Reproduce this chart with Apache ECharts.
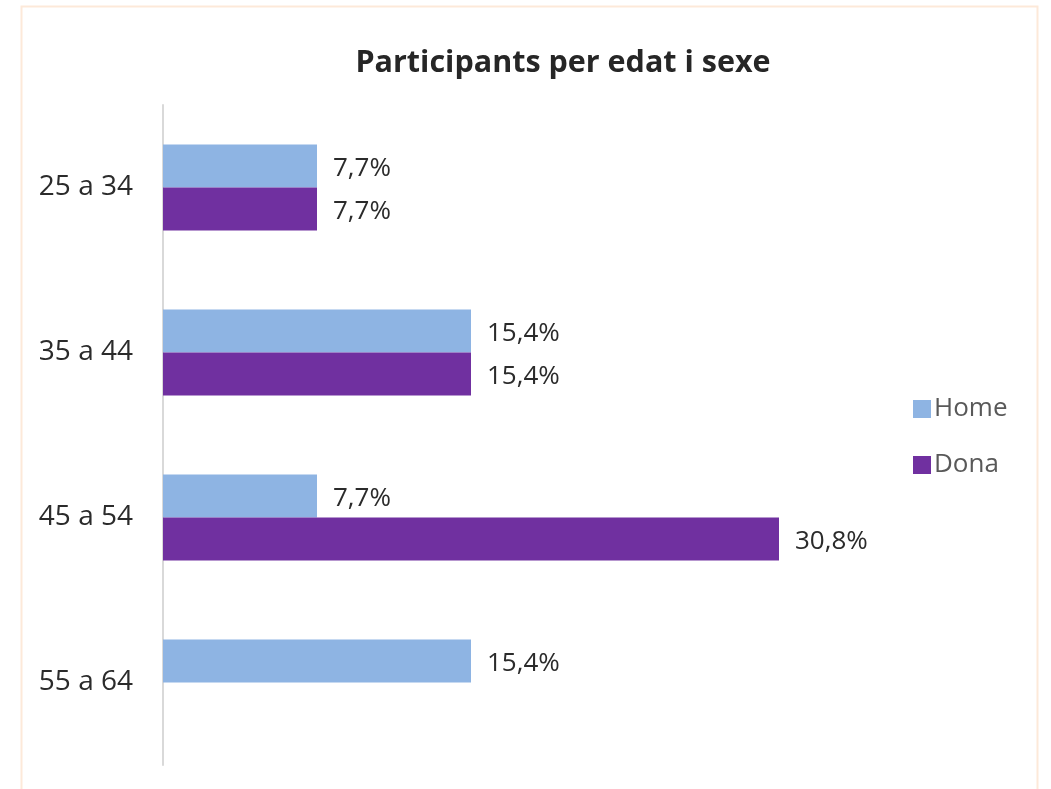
<!DOCTYPE html>
<html><head><meta charset="utf-8">
<script src="https://cdn.jsdelivr.net/npm/echarts@6/dist/echarts.min.js"></script>
<style>html,body{margin:0;padding:0;background:#fff}#c{width:1051px;height:789px}</style>
</head><body><div id="c"></div>
<script>
const categories = ['25 a 34', '35 a 44', '45 a 54', '55 a 64'];
const homeValues = [7.7, 15.4, 7.7, 15.4];
const donaValues = [7.7, 15.4, 30.8, null];
const seriesNames = ['Home', 'Dona'];
const titleText = 'Participants per edat i sexe';

const FONT = '"Open Sans", "Noto Sans", sans-serif';
const chart = echarts.init(document.getElementById('c'), null, {renderer: 'canvas'});
const fmt = p => p.value == null ? '' : p.value.toFixed(1).replace('.', ',') + '%';
const labelStyle = {show: true, position: 'right', distance: 16, offset: [0, 3], formatter: fmt,
  fontFamily: FONT, fontSize: 26, color: '#2b2b2b'};
chart.setOption({
  animation: false,
  backgroundColor: '#fff',
  graphic: [{type: 'rect', shape: {x: 21.5, y: 6.5, width: 1016, height: 800},
    style: {fill: 'none', stroke: '#FDE9D9', lineWidth: 2}, silent: true, z: -1}],
  title: {text: titleText, left: 558, top: 43, textAlign: 'center',
    textStyle: {fontFamily: FONT, fontSize: 30.5, fontWeight: 'bold', color: '#262626'}},
  legend: {orient: 'vertical', left: 908, top: 391, itemWidth: 18, itemHeight: 18,
    itemGap: 30, icon: 'rect', data: seriesNames,
    textStyle: {fontFamily: FONT, fontSize: 26, color: '#595959', padding: [0,0,0,-2]}},
  grid: {left: 163, top: 105, right: 188, bottom: 24, containLabel: false},
  xAxis: {type: 'value', min: 0, max: 35, show: false},
  yAxis: {type: 'category', data: categories, inverse: true,
    axisLine: {show: true, lineStyle: {color: '#D9D9D9', width: 2}},
    axisTick: {show: false},
    axisLabel: {fontFamily: FONT, fontSize: 28, color: '#2b2b2b', margin: 30, padding: [3, 0, 0, 0]}},
  series: [
    {name: seriesNames[0], type: 'bar', data: homeValues, barWidth: 43, barGap: '0%',
      itemStyle: {color: '#8EB4E3'}, label: labelStyle},
    {name: seriesNames[1], type: 'bar', data: donaValues, barWidth: 43, barGap: '0%',
      itemStyle: {color: '#7030A0'}, label: labelStyle}
  ]
});
</script></body></html>
